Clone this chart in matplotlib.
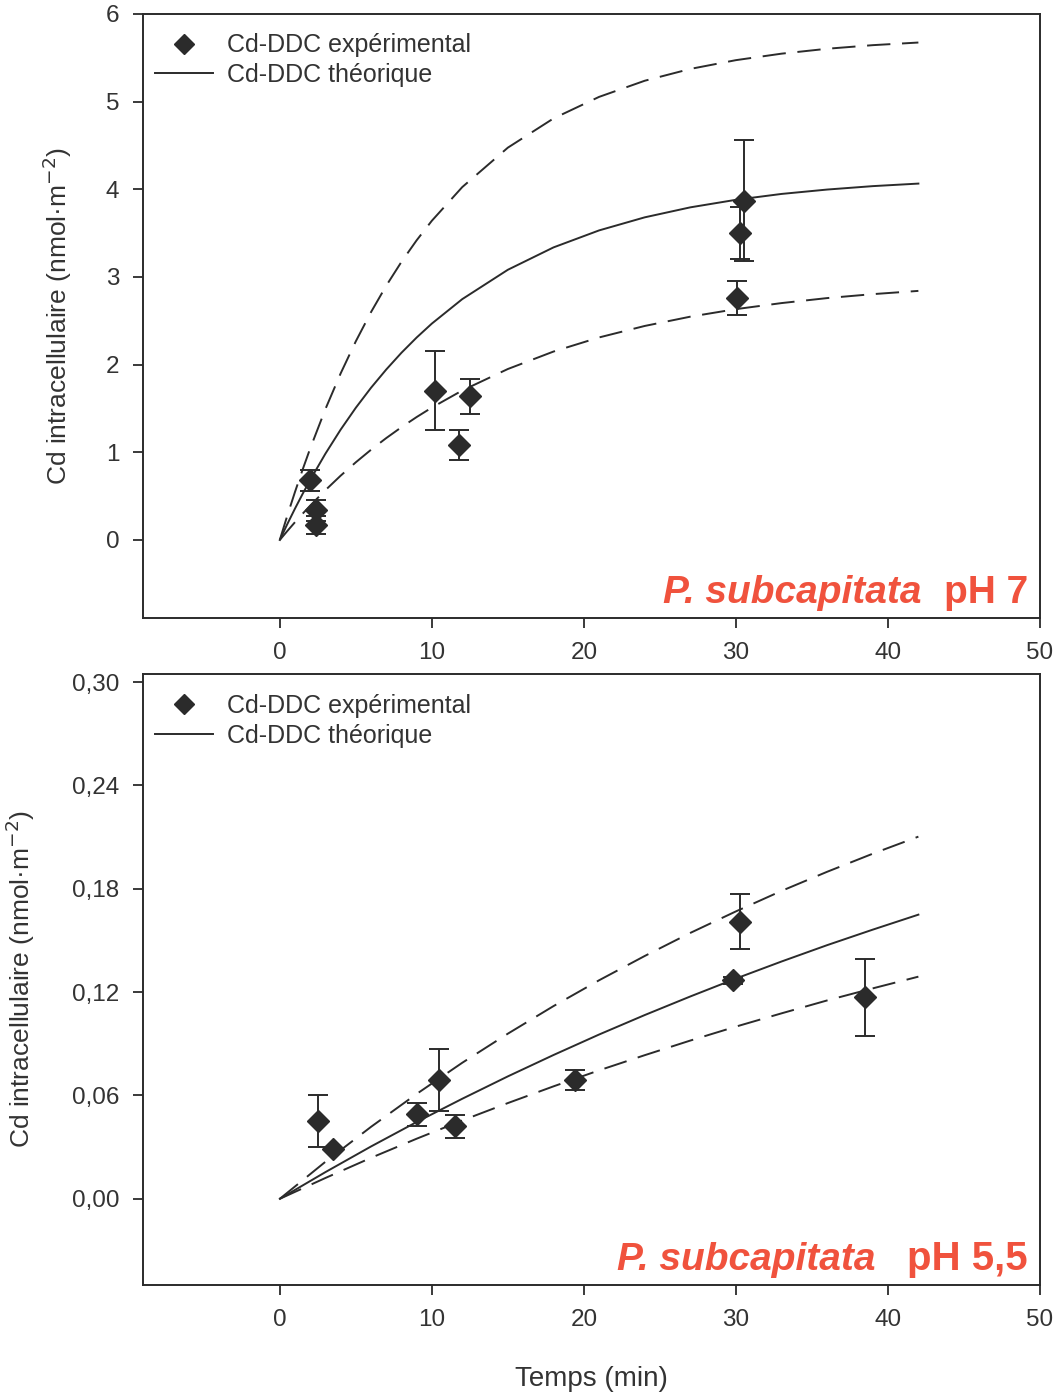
import matplotlib
matplotlib.use("Agg")
import matplotlib.pyplot as plt
from matplotlib.lines import Line2D

plt.rcParams['font.family'] = ['Liberation Sans', 'DejaVu Sans']

# ---- pH 7 ----
t7_exp = [2.0, 2.4, 2.4, 10.2, 11.8, 12.5, 30.5, 30.3, 30.1]
cd7_exp = [0.68, 0.34, 0.17, 1.70, 1.08, 1.64, 3.87, 3.50, 2.76]
cd7_err = [0.12, 0.12, 0.10, 0.45, 0.17, 0.20, 0.69, 0.30, 0.19]

t7_fit = [0, 0.5, 1, 1.5, 2, 3, 4, 5, 6, 7, 8, 9, 10, 12, 15, 18, 21, 24, 27,
          30, 33, 36, 39, 42]
cd7_theo = [0, 0.183, 0.358, 0.525, 0.685, 0.984, 1.258, 1.508, 1.736, 1.944,
            2.135, 2.309, 2.468, 2.747, 3.082, 3.337, 3.531, 3.680, 3.794,
            3.880, 3.947, 3.997, 4.036, 4.065]
cd7_high = [0, 0.281, 0.548, 0.802, 1.044, 1.493, 1.899, 2.266, 2.599, 2.900,
            3.172, 3.418, 3.641, 4.025, 4.475, 4.808, 5.054, 5.238, 5.373,
            5.473, 5.547, 5.603, 5.644, 5.674]
cd7_low = [0, 0.103, 0.203, 0.299, 0.392, 0.568, 0.733, 0.886, 1.029, 1.162,
           1.286, 1.402, 1.510, 1.705, 1.950, 2.149, 2.310, 2.441, 2.547,
           2.633, 2.702, 2.759, 2.804, 2.841]

# ---- pH 5,5 ----
t55_exp = [2.5, 3.5, 9.0, 10.5, 11.5, 19.4, 29.8, 30.3, 38.5]
cd55_exp = [0.045, 0.029, 0.049, 0.069, 0.042, 0.069, 0.127, 0.161, 0.117]
cd55_err = [0.015, 0.0, 0.0065, 0.018, 0.0065, 0.006, 0.002, 0.016, 0.0225]

t55_fit = [0, 3, 6, 9, 12, 15, 18, 21, 24, 27, 30, 33, 36, 39, 42]
cd55_theo = [0, 0.0155, 0.0304, 0.0446, 0.0581, 0.0711, 0.0835, 0.0954, 0.1067,
             0.1175, 0.1279, 0.1378, 0.1473, 0.1563, 0.1650]
cd55_high = [0, 0.0215, 0.0418, 0.0609, 0.0790, 0.0959, 0.1119, 0.1269, 0.1410,
             0.1544, 0.1669, 0.1788, 0.1899, 0.2004, 0.2103]
cd55_low = [0, 0.0121, 0.0238, 0.0349, 0.0455, 0.0556, 0.0653, 0.0746, 0.0834,
            0.0919, 0.1000, 0.1077, 0.1152, 0.1222, 0.1290]

x_ticks = [0, 10, 20, 30, 40, 50]
y7_ticks = [0, 1, 2, 3, 4, 5, 6]
y55_ticks = [0.00, 0.06, 0.12, 0.18, 0.24, 0.30]
y55_labels = ['0,00', '0,06', '0,12', '0,18', '0,24', '0,30']

INK = '#2b2b2b'
TXT = '#333333'
RED = '#F0523D'
DASH = (12, 6)
YLABEL = 'Cd intracellulaire (nmol·m$^{\\mathrm{-2}}$)'

fig = plt.figure(figsize=(10.55, 13.95), dpi=100)
ax1 = fig.add_axes([0.1355, 0.557, 0.8503, 0.433])
ax2 = fig.add_axes([0.1355, 0.0789, 0.8503, 0.4379])


def draw(ax, t_exp, y_exp, y_err, t_fit, theo, high, low, leg_top):
    ax.plot(t_fit, theo, color=INK, lw=1.4)
    ax.plot(t_fit, high, color=INK, lw=1.4, dashes=DASH)
    ax.plot(t_fit, low, color=INK, lw=1.4, dashes=DASH)
    ax.errorbar(t_exp, y_exp, yerr=y_err, fmt='D', color=INK, ms=11,
                mec=INK, mfc=INK, ecolor=INK, elinewidth=1.4,
                capsize=7, capthick=1.4, zorder=5)
    for s in ax.spines.values():
        s.set_linewidth(1.4)
        s.set_color(INK)
    ax.tick_params(direction='out', length=7, width=1.3, colors=INK,
                   labelsize=17.5, labelcolor=TXT, pad=10)
    ax.set_xlim(-9, 50)
    ax.set_xticks(x_ticks)
    handles = [Line2D([], [], marker='D', ls='none', color=INK, ms=10),
               Line2D([], [], color=INK, lw=1.4)]
    ax.legend(handles, ['Cd-DDC expérimental', 'Cd-DDC théorique'],
              loc='upper left', bbox_to_anchor=(0.013, leg_top),
              frameon=False, fontsize=18, handlelength=2.35,
              handletextpad=0.55, labelspacing=0.22, borderaxespad=0,
              borderpad=0, labelcolor=TXT)
    ax.set_ylabel(YLABEL, fontsize=19, color=TXT)


def species_tag(ax, ph_text, gap, size_sp, size_ph):
    ph = ax.text(0.9866, 0.025, ph_text, transform=ax.transAxes, ha='right',
                 va='baseline', fontsize=size_ph, color=RED, fontweight='bold')
    ax.annotate('P. subcapitata', xy=(0, 0.025), xycoords=(ph, 'axes fraction'),
                xytext=(-gap, 0), textcoords='offset points', ha='right',
                va='baseline', fontsize=size_sp, color=RED, fontweight='bold',
                fontstyle='italic')


draw(ax1, t7_exp, cd7_exp, cd7_err, t7_fit, cd7_theo, cd7_high, cd7_low, 0.968)
ax1.set_ylim(-0.89, 6.0)
ax1.set_yticks(y7_ticks)
ax1.yaxis.set_label_coords(-0.077, 0.5)
species_tag(ax1, 'pH 7', 16, 28, 28)

draw(ax2, t55_exp, cd55_exp, cd55_err, t55_fit, cd55_theo, cd55_high, cd55_low, 0.967)
ax2.set_ylim(-0.05, 0.3047)
ax2.set_yticks(y55_ticks)
ax2.set_yticklabels(y55_labels)
ax2.yaxis.set_label_coords(-0.118, 0.5)
species_tag(ax2, 'pH 5,5', 23, 28, 29)
ax2.set_xlabel('Temps (min)', fontsize=20, color=TXT)
ax2.xaxis.set_label_coords(0.5, -0.133)

fig.savefig('out.png', dpi=100, facecolor='white')
